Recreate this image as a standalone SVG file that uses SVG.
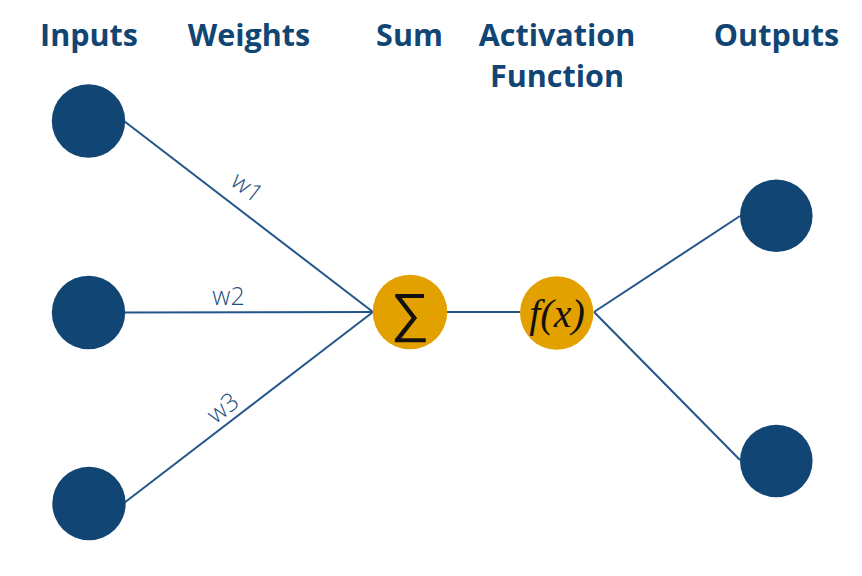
<svg xmlns="http://www.w3.org/2000/svg" width="862" height="576" viewBox="0 0 862 576">
<style>
.hdr{font-family:"Open Sans","Liberation Sans",sans-serif;font-weight:bold;font-size:30.5px;fill:#114573;text-anchor:middle}
.io{fill:#114573}
.op{fill:#e3a100}
.wl{font-family:"Open Sans","Liberation Sans",sans-serif;font-weight:300;font-size:25px;fill:#1f4f80;text-anchor:middle}
.cn{stroke:#23558a;stroke-width:2;fill:none}
</style>
<rect width="862" height="576" fill="#ffffff"/>
<g id="headers">
<text class="hdr" x="89" y="46">Inputs</text>
<text class="hdr" x="249" y="46">Weights</text>
<text class="hdr" x="409.5" y="46">Sum</text>
<text class="hdr" x="557" y="46">Activation</text>
<text class="hdr" x="557" y="87">Function</text>
<text class="hdr" x="776.5" y="46">Outputs</text>
</g>
<g id="connectors">
<line class="cn" x1="124" y1="121" x2="373" y2="312"/>
<line class="cn" x1="124" y1="312.5" x2="373" y2="312"/>
<line class="cn" x1="124" y1="503" x2="373" y2="312"/>
<line class="cn" x1="447" y1="312" x2="520" y2="312"/>
<line class="cn" x1="594" y1="312" x2="740" y2="216"/>
<line class="cn" x1="594" y1="312" x2="740" y2="460"/>
<text class="wl" transform="translate(247.5,187) rotate(37.5)" y="9">w1</text>
<text class="wl" x="228.5" y="305">w2</text>
<text class="wl" transform="translate(222.5,407.5) rotate(-37.5)" y="9">w3</text>
</g>
<g id="input1"><circle class="io" cx="88.5" cy="121" r="36.7"/></g>
<g id="input2"><circle class="io" cx="88.5" cy="312.5" r="36.7"/></g>
<g id="input3"><circle class="io" cx="89" cy="503.5" r="36.7"/></g>
<g id="sum"><circle class="op" cx="410" cy="312" r="37.3"/>
<text x="410" y="331" font-family="DejaVu Sans, sans-serif" font-weight="200" font-size="54" text-anchor="middle" fill="#111">∑</text></g>
<g id="activation"><circle class="op" cx="556.7" cy="313" r="36.7"/>
<text x="557" y="327" font-family="Liberation Serif, serif" font-style="italic" font-size="40" text-anchor="middle" fill="#111">f(x)</text></g>
<g id="output1"><circle class="io" cx="776.3" cy="215.8" r="36.3"/></g>
<g id="output2"><circle class="io" cx="776.3" cy="461" r="36.3"/></g>
</svg>
